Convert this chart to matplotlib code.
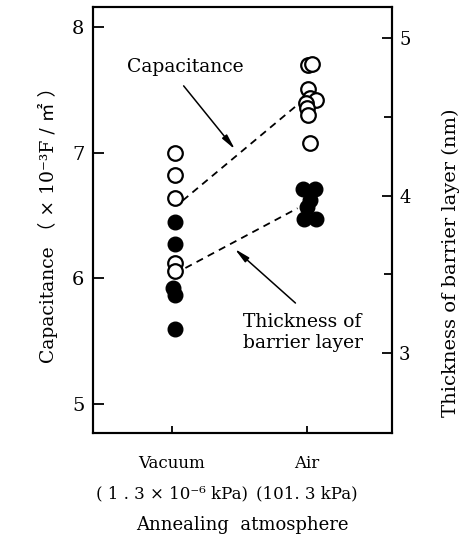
import matplotlib
matplotlib.use("Agg")
import matplotlib.pyplot as plt

plt.rcParams['font.family'] = ['DejaVu Serif', 'Noto Sans CJK JP']

# atmosphere categories (0 = vacuum, 1 = air)
categories = ['Vacuum\n( 1 . 3 × 10⁻⁶ kPa)', 'Air\n(101. 3 kPa)']

# capacitance (x10^-3 F/m2), open circles, left axis
cap_x = [0.02, 0.02, 0.02, 0.02, 0.02, 1.01, 1.04, 1.01, 1.02, 1.07, 0.99, 1.00, 1.01, 1.02]
cap_y = [7.00, 6.82, 6.64, 6.12, 6.06, 7.70, 7.71, 7.51, 7.44, 7.42, 7.40, 7.36, 7.30, 7.08]

# barrier layer thickness (nm), filled circles, right axis
thk_x = [0.02, 0.02, 0.01, 0.02, 0.02, 0.97, 1.06, 1.02, 1.00, 0.98, 1.07]
thk_y = [3.83, 3.69, 3.41, 3.37, 3.15, 4.04, 4.04, 3.97, 3.93, 3.85, 3.85]

# dashed guide lines
cap_trend_x = [0.08, 0.95]
cap_trend_y = [6.62, 7.40]
thk_trend_x = [0.10, 0.93]
thk_trend_y = [3.54, 3.92]

fig = plt.figure(figsize=(4.69, 5.42), dpi=100)
ax = fig.add_axes([0.198, 0.201, 0.638, 0.786])
ax2 = ax.twinx()

ax.set_xlim(-0.585, 1.63)
ax.set_ylim(4.77, 8.16)
ax2.set_ylim(2.49, 5.20)

ax.plot(cap_trend_x, cap_trend_y, 'k--', lw=1.3, dashes=(4, 3))
ax2.plot(thk_trend_x, thk_trend_y, 'k--', lw=1.3, dashes=(4, 3))

ax.plot(cap_x, cap_y, 'o', ms=10.5, mfc='white', mec='black', mew=1.6, ls='none')
ax2.plot(thk_x, thk_y, 'o', ms=10.5, mfc='black', mec='black', ls='none')

for a in (ax, ax2):
    for s in a.spines.values():
        s.set_linewidth(1.5)

ax.set_xticks([0, 1])
ax.set_xticklabels(categories, fontsize=12, linespacing=2.0)
ax.set_yticks([5, 6, 7, 8])
ax.tick_params(axis='y', direction='in', length=8, width=1.3, labelsize=14, pad=6)
ax.tick_params(axis='x', direction='in', length=5, width=1.3, pad=16)
ax2.set_yticks([3, 4, 5])
ax2.set_yticks([3.5, 4.5], minor=True)
ax2.tick_params(axis='y', which='major', direction='in', length=7, width=1.3, labelsize=13, pad=5)
ax2.tick_params(axis='y', which='minor', direction='in', length=6, width=1.3)

ax.set_xlabel('Annealing  atmosphere', fontsize=13, labelpad=10)
ax.set_ylabel('Capacitance （ × 10⁻³F / ㎡ ）', fontsize=13.5, labelpad=10)
ax2.set_ylabel('Thickness of barrier layer (nm)', fontsize=14)
ax2.yaxis.set_label_coords(1.165, 0.40)

ax.text(-0.33, 7.68, 'Capacitance', fontsize=13.5, ha='left', va='center')
ax.annotate('', xy=(0.48, 7.01), xytext=(0.074, 7.55),
            arrowprops=dict(arrowstyle='-|>,head_length=0.9,head_width=0.18', color='black', lw=1.1))
ax.text(0.526, 5.57, 'Thickness of\nbarrier layer', fontsize=13.5, ha='left', va='center', linespacing=1.25)
ax.annotate('', xy=(0.45, 6.25), xytext=(0.93, 5.79),
            arrowprops=dict(arrowstyle='-|>,head_length=0.9,head_width=0.18', color='black', lw=1.1))

fig.savefig('out.png', dpi=100)
